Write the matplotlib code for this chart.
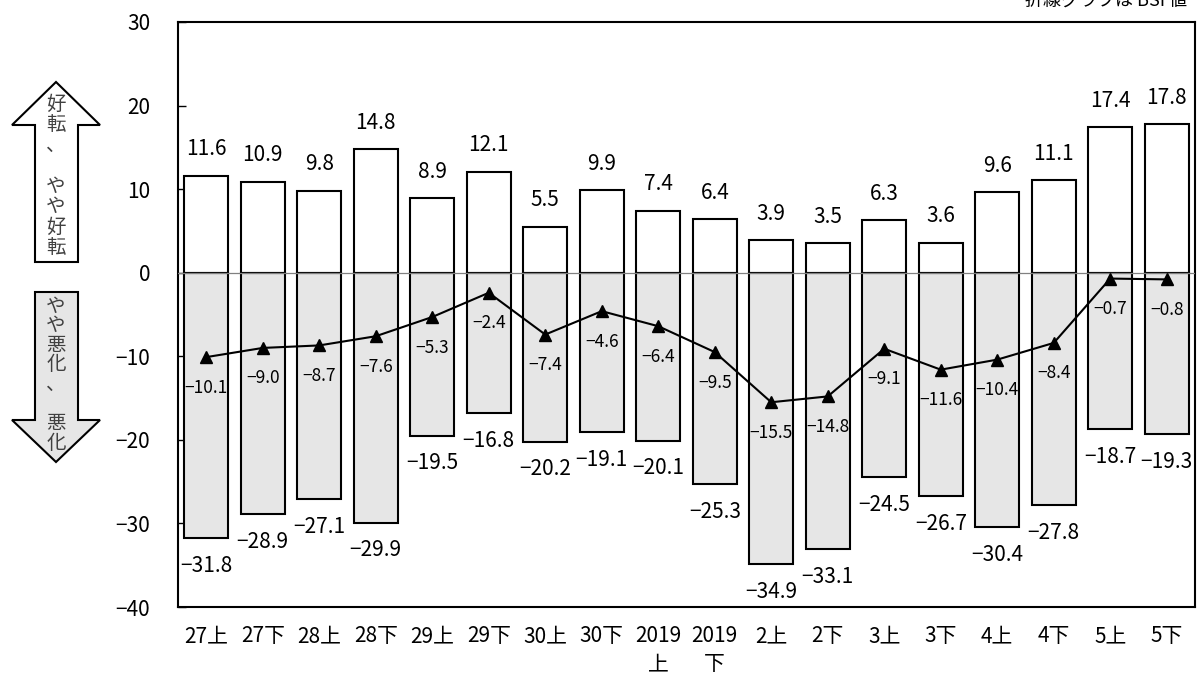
import matplotlib
matplotlib.use("Agg")
import matplotlib.pyplot as plt
from matplotlib.patches import Polygon
import numpy as np

plt.rcParams['font.family'] = ['Noto Sans CJK JP', 'DejaVu Sans']

categories = ["27上", "27下", "28上", "28下", "29上", "29下", "30上", "30下",
              "2019\n上", "2019\n下", "2上", "2下", "3上", "3下", "4上", "4下", "5上", "5下"]
improve = [11.6, 10.9, 9.8, 14.8, 8.9, 12.1, 5.5, 9.9, 7.4, 6.4, 3.9, 3.5, 6.3, 3.6, 9.6, 11.1, 17.4, 17.8]
worsen = [-31.8, -28.9, -27.1, -29.9, -19.5, -16.8, -20.2, -19.1, -20.1, -25.3, -34.9, -33.1,
          -24.5, -26.7, -30.4, -27.8, -18.7, -19.3]
bsi = [-10.1, -9.0, -8.7, -7.6, -5.3, -2.4, -7.4, -4.6, -6.4, -9.5, -15.5, -14.8, -9.1,
       -11.6, -10.4, -8.4, -0.7, -0.8]
yticks = [30, 20, 10, 0, -10, -20, -30, -40]

W, H = 1197, 684
fig = plt.figure(figsize=(W / 100, H / 100), dpi=100)
ax = fig.add_axes([178 / W, 1 - 607 / H, (1195 - 178) / W, (607 - 22) / H])

x = np.arange(len(categories))
bw = 0.77
ax.bar(x, improve, width=bw, color="white", edgecolor="black", linewidth=1.5, zorder=2)
ax.bar(x, worsen, width=bw, color="#e6e6e6", edgecolor="black", linewidth=1.5, zorder=2)
ax.axhline(0, color="#808080", linewidth=0.9, zorder=3)
ax.plot(x, bsi, color="black", linewidth=1.5, marker="^", markersize=8, zorder=4)

def neg(v):
    return f"−{abs(v):.1f}"

for i in x:
    ax.annotate(f"{improve[i]:.1f}", (i, improve[i]), xytext=(0, 19), textcoords="offset points",
                ha="center", va="center", fontsize=15)
    ax.annotate(neg(worsen[i]), (i, worsen[i]), xytext=(0, -20), textcoords="offset points",
                ha="center", va="center", fontsize=15)
    ax.annotate(neg(bsi[i]), (i, bsi[i]), xytext=(0, -22), textcoords="offset points",
                ha="center", va="center", fontsize=12.5)

ax.set_xlim(-0.5, len(categories) - 0.5)
ax.set_ylim(-40, 30)
ax.set_yticks(yticks)
ax.set_yticklabels([str(v) if v >= 0 else f"−{abs(v)}" for v in yticks], fontsize=15)
ax.tick_params(axis="y", direction="in", length=6, width=1, pad=20)
ax.set_xticks(x)
ax.set_xticklabels(categories, fontsize=15, linespacing=1.35)
ax.tick_params(axis="x", length=0, pad=13)
for s in ax.spines.values():
    s.set_linewidth(1.5)

# note at top right (partially clipped, as in the source)
fig.text(1187 / W, 1 - 1 / H, "折線グラフは BSI 値", ha="right", va="center", fontsize=13,
         family=['Noto Sans CJK JP'])

def fpt(px, py):
    return (px / W, 1 - py / H)

up = [fpt(56, 82), fpt(12, 125), fpt(35, 125), fpt(35, 262), fpt(78, 262), fpt(78, 125), fpt(100, 125)]
down = [fpt(35, 292), fpt(78, 292), fpt(78, 420), fpt(100, 420), fpt(56, 462), fpt(12, 420), fpt(35, 420)]
fig.patches.append(Polygon(up, closed=True, facecolor="white", edgecolor="black", linewidth=1.5,
                           transform=fig.transFigure, figure=fig))
fig.patches.append(Polygon(down, closed=True, facecolor="#e6e6e6", edgecolor="black", linewidth=1.5,
                           transform=fig.transFigure, figure=fig))

up_chars = ["好", "転", "、", "", "や", "や", "好", "転"]
down_chars = ["や", "や", "悪", "化", "、", "", "悪", "化"]
for k, c in enumerate(up_chars):
    if c:
        fig.text(56 / W, 1 - (104 + k * 20.5) / H, c, ha="center", va="center", fontsize=14, color="#404040")
for k, c in enumerate(down_chars):
    if c:
        fig.text(56 / W, 1 - (306 + k * 19.6) / H, c, ha="center", va="center", fontsize=14, color="#404040")

fig.savefig("out.png", dpi=100)
